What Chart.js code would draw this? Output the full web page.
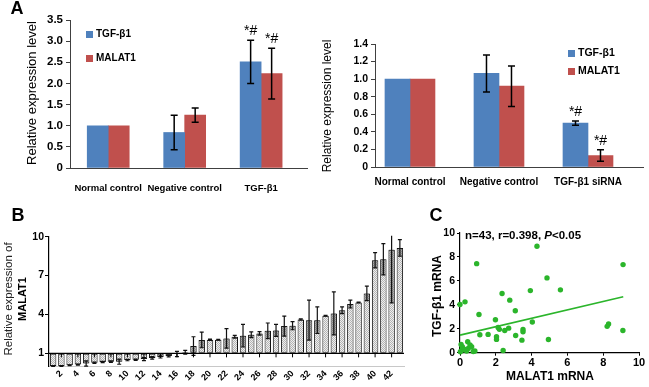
<!DOCTYPE html>
<html><head><meta charset="utf-8">
<script src="https://cdn.jsdelivr.net/npm/chart.js@4.4.0/dist/chart.umd.min.js"></script>
<style>
body{margin:0;background:#fff;}
#wrap{position:relative;width:649px;height:387px;overflow:hidden;background:#fff;}
canvas{position:absolute;}
</style></head><body>
<div id="wrap">
<canvas id="cA1" width="320" height="200" style="left:0;top:0"></canvas>
<canvas id="cA2" width="329" height="200" style="left:320px;top:0"></canvas>
<canvas id="cB" width="410" height="187" style="left:0;top:200px"></canvas>
<canvas id="cC" width="239" height="187" style="left:410px;top:200px"></canvas>
</div>
<script>
// ---------- Panel A (left) ----------
const catsA1 = ['Normal control', 'Negative control', 'TGF-β1'];
const tgfA1 = [1.0, 0.84, 2.51];
const tgfA1Err = [0, 0.41, 0.51];
const malA1 = [1.0, 1.25, 2.23];
const malA1Err = [0, 0.17, 0.60];
const tgfA1Sig = ['', '', '*#'];
const malA1Sig = ['', '', '*#'];

// ---------- Panel A (right) ----------
const catsA2 = ['Normal control', 'Negative control', 'TGF-β1 siRNA'];
const tgfA2 = [1.0, 1.065, 0.50];
const tgfA2Err = [0, 0.21, 0.025];
const malA2 = [1.0, 0.92, 0.13];
const malA2Err = [0, 0.23, 0.065];
const tgfA2Sig = ['', '', '*#'];
const malA2Sig = ['', '', '*#'];

// ---------- Panel B ----------
const samplesB = ['1','2','3','4','5','6','7','8','9','10','11','12','13','14','15','16','17','18','19','20','21','22','23','24','25','26','27','28','29','30','31','32','33','34','35','36','37','38','39','40','41','42','43'];
const malatB = [0.03,0.03,0.08,0.13,0.22,0.28,0.34,0.36,0.36,0.48,0.50,0.56,0.65,0.72,0.80,0.95,1.08,
  1.56,2.03,2.05,2.05,2.15,2.28,2.36,2.44,2.54,2.74,2.77,3.10,3.13,3.62,3.56,3.56,3.90,4.08,4.33,4.80,4.92,5.62,8.18,8.26,9.00,9.13];
const malatBErr = [0.03,0.03,0.03,0.04,0.20,0.05,0.05,0.06,0.20,0.05,0.05,0.12,0.10,0.08,0.08,0.20,0.15,
  0.72,0.60,0.05,0.03,0.75,0.10,0.87,0.22,0.13,0.60,0.46,0.77,0.31,0.05,1.54,1.03,0.03,1.66,0.26,0.30,0.03,0.56,0.59,1.20,4.10,0.64];
const yTicksB = [1, 4, 7, 10];

// ---------- Panel C ----------
const malatC = [4.30,0.93,9.11,4.86,5.61,3.93,2.35,2.78,0.00,0.28,3.09,1.06,1.98,4.04,8.30,8.22,2.13,2.20,2.72,2.50,3.52,3.52,9.10,3.11,1.11,1.57,2.04,2.04,3.46,4.94,2.41,0.06,0.13,0.43,0.56,0.46,0.65,0.37,0.09,0.83,0.24,0.02,0.74];
const tgfC   = [8.89,7.44,7.36,6.25,5.25,5.19,4.94,4.39,4.03,4.25,3.50,3.19,2.75,2.56,2.40,2.20,2.10,1.95,2.05,1.86,1.94,1.75,1.86,1.44,1.50,1.53,1.33,1.11,1.05,1.10,0.19,0.69,0.50,0.92,0.64,0.36,0.50,0.14,0.19,0.14,0.30,0.08,0.10];
const fitX = [0, 9.12];
const fitY = [1.47, 4.68];

// ---------- helpers ----------
const FAM = "'Liberation Sans', Arial, sans-serif";
const fnt = (size, weight = 'bold', style = 'normal') => `${style} ${weight} ${size}px ${FAM}`;
const BLUE = '#4F81BD', RED = '#C0504D', GREEN = '#2bb52b';

function textsPlugin(items) {
  return { id: 'texts', afterDraw(chart) {
    const ctx = chart.ctx;
    items.forEach(it => {
      ctx.save();
      ctx.translate(it.x, it.y);
      if (it.rot) ctx.rotate(it.rot * Math.PI / 180);
      ctx.textBaseline = 'middle';
      ctx.textAlign = 'left';
      ctx.fillStyle = it.color || '#000';
      const parts = it.parts || [{ t: it.text, font: it.font }];
      const widths = parts.map(p => { ctx.font = p.font; return ctx.measureText(p.t).width; });
      const total = widths.reduce((a, b) => a + b, 0);
      let x = it.align === 'left' ? 0 : -total / 2;
      parts.forEach((p, i) => { ctx.font = p.font; ctx.fillText(p.t, x, 0); x += widths[i]; });
      ctx.restore();
    });
  }};
}

function errPluginA(capW, sigFont) {
  return { id: 'errA', afterDatasetsDraw(chart) {
    const ctx = chart.ctx, ys = chart.scales.y;
    chart.data.datasets.forEach((ds, di) => {
      const meta = chart.getDatasetMeta(di);
      meta.data.forEach((bar, i) => {
        const v = ds.data[i].y, e = ds.errors[i];
        let top = bar.y;
        if (e) {
          const yt = ys.getPixelForValue(v + e), yb = ys.getPixelForValue(v - e);
          ctx.save(); ctx.strokeStyle = '#000'; ctx.lineWidth = 1.5;
          ctx.beginPath();
          ctx.moveTo(bar.x, yt); ctx.lineTo(bar.x, yb);
          ctx.moveTo(bar.x - capW / 2, yt); ctx.lineTo(bar.x + capW / 2, yt);
          ctx.moveTo(bar.x - capW / 2, yb); ctx.lineTo(bar.x + capW / 2, yb);
          ctx.stroke(); ctx.restore();
          top = yt;
        }
        if (ds.marks && ds.marks[i]) {
          ctx.save(); ctx.font = sigFont; ctx.fillStyle = '#000';
          ctx.textAlign = 'center'; ctx.textBaseline = 'middle';
          ctx.fillText(ds.marks[i], bar.x, top - 9);
          ctx.restore();
        }
      });
    });
  }};
}

function legendPlugin(x, y0, dy, size, font) {
  return { id: 'legA', afterDraw(chart) {
    const ctx = chart.ctx;
    chart.data.datasets.forEach((ds, i) => {
      const y = y0 + i * dy;
      ctx.save();
      ctx.fillStyle = ds.backgroundColor;
      ctx.fillRect(x, y, size, size);
      ctx.fillStyle = '#000'; ctx.font = font;
      ctx.textAlign = 'left'; ctx.textBaseline = 'middle';
      ctx.fillText(ds.label, x + size + 3, y + size / 2);
      ctx.restore();
    });
  }};
}

const axisCol = '#404040';

function barPanelA(canvasId, cats, tgf, tgfErr, tgfSig, mal, malErr, malSig, cfg) {
  new Chart(document.getElementById(canvasId), {
    type: 'bar',
    data: { datasets: [
      { label: 'TGF-β1', data: tgf.map((v, i) => ({ x: i, y: v })), backgroundColor: BLUE, errors: tgfErr, marks: tgfSig },
      { label: 'MALAT1', data: mal.map((v, i) => ({ x: i, y: v })), backgroundColor: RED, errors: malErr, marks: malSig }
    ]},
    options: {
      responsive: false, animation: false, devicePixelRatio: 1,
      layout: { padding: { top: cfg.top, right: cfg.right, left: 0, bottom: 0 } },
      datasets: { bar: { barThickness: cfg.barW, borderWidth: 0 } },
      scales: {
        x: {
          type: 'linear', min: cfg.xmin, max: cfg.xmax, offset: false, bounds: 'data',
          afterBuildTicks: s => { s.ticks = cats.map((_, i) => ({ value: i })); },
          ticks: { callback: v => cats[v], font: { family: FAM, size: cfg.catSize, weight: 'bold' }, color: '#000', padding: cfg.catPad, maxRotation: 0, autoSkip: false },
          grid: { display: false, drawTicks: false },
          border: { color: axisCol, width: 1 },
          afterFit: s => { s.height = cfg.xH; }
        },
        y: {
          min: 0, max: cfg.ymax,
          ticks: { stepSize: cfg.step, font: { family: FAM, size: cfg.tickSize, weight: 'bold' }, color: '#000', padding: 3 },
          grid: { drawOnChartArea: false, drawTicks: true, tickLength: 4, color: axisCol },
          border: { color: axisCol, width: 1 },
          afterFit: s => { s.width = cfg.yW; }
        }
      },
      plugins: { legend: { display: false }, tooltip: { enabled: false } }
    },
    plugins: [errPluginA(cfg.capW, fnt(14, 'normal')), legendPlugin(cfg.legX, cfg.legY, cfg.legDy, 7, fnt(cfg.legSize)), textsPlugin(cfg.texts)]
  });
}

barPanelA('cA1', catsA1, tgfA1, tgfA1Err, tgfA1Sig, malA1, malA1Err, malA1Sig, {
  top: 20, right: 13, xmin: -0.5, xmax: 2.6, barW: 21, catSize: 9.5, catPad: 15, xH: 32,
  ymax: 3.5, step: 0.5, tickSize: 11.5, yW: 70, capW: 7,
  legX: 86, legY: 31, legDy: 24, legSize: 10,
  texts: [
    { text: 'A', x: 17, y: 9, font: fnt(18) },
    { text: 'Relative expression level', x: 32, y: 93, rot: -90, font: fnt(13, 'normal') }
  ]
});

barPanelA('cA2', catsA2, tgfA2, tgfA2Err, tgfA2Sig, malA2, malA2Err, malA2Sig, {
  top: 44, right: 6, xmin: -0.393, xmax: 2.618, barW: 25, catSize: 10, catPad: 9, xH: 33,
  ymax: 1.4, step: 0.2, tickSize: 10.5, yW: 55, capW: 7,
  legX: 248, legY: 50, legDy: 18, legSize: 10.5,
  texts: [
    { text: 'Relative expression level', x: 8, y: 106, rot: -90, font: fnt(12, 'normal') }
  ]
});

// ---------- Panel B ----------
function hatchPattern() {
  const c = document.createElement('canvas'); c.width = 2; c.height = 2;
  const g = c.getContext('2d');
  g.fillStyle = '#eeeeee'; g.fillRect(0, 0, 2, 2);
  g.fillStyle = '#b4b4b4';
  g.fillRect(0, 0, 1, 1); g.fillRect(1, 1, 1, 1);
  return g.createPattern(c, 'repeat');
}

const bPlugin = { id: 'bExtras', afterDatasetsDraw(chart) {
  const ctx = chart.ctx, ys = chart.scales.y, xs = chart.scales.x, a = chart.chartArea;
  const y1 = ys.getPixelForValue(1);
  ctx.save();
  ctx.beginPath(); ctx.rect(a.left, a.top - 1, a.right - a.left + 1, a.bottom - a.top + 2); ctx.clip();
  const meta = chart.getDatasetMeta(0);
  meta.data.forEach((bar, i) => {
    const v = malatB[i], e = malatBErr[i];
    const yt = ys.getPixelForValue(v + e), yb = ys.getPixelForValue(v - e);
    const inner = v >= 1 ? ys.getPixelForValue(Math.max(v - e, 1)) : ys.getPixelForValue(Math.min(v + e, 1));
    ctx.fillStyle = 'rgba(40,40,40,0.35)';
    ctx.fillRect(bar.x - bar.width / 2 + 1, Math.min(bar.y, inner), bar.width - 2, Math.abs(inner - bar.y));
    ctx.strokeStyle = '#111'; ctx.lineWidth = 1.2;
    ctx.beginPath();
    ctx.moveTo(bar.x, yt); ctx.lineTo(bar.x, yb);
    ctx.moveTo(bar.x - 2, yt); ctx.lineTo(bar.x + 2, yt);
    ctx.moveTo(bar.x - 2, yb); ctx.lineTo(bar.x + 2, yb);
    ctx.stroke();
  });
  ctx.restore();
  ctx.save();
  ctx.strokeStyle = '#000'; ctx.lineWidth = 1.3;
  ctx.beginPath(); ctx.moveTo(a.left, y1); ctx.lineTo(a.right, y1); ctx.stroke();
  ctx.lineWidth = 1;
  ctx.beginPath();
  samplesB.forEach((s, i) => { if (i % 2 === 1) { const x = xs.getPixelForValue(i); ctx.moveTo(x, y1); ctx.lineTo(x, y1 + 4); } });
  ctx.stroke();
  ctx.restore();
}};

new Chart(document.getElementById('cB'), {
  type: 'bar',
  data: { labels: samplesB, datasets: [{ data: malatB, base: 1, backgroundColor: hatchPattern(), borderColor: '#111', borderWidth: 1, borderSkipped: false }] },
  options: {
    responsive: false, animation: false, devicePixelRatio: 1,
    layout: { padding: { top: 36.7, right: 6, left: 0, bottom: 0 } },
    datasets: { bar: { barPercentage: 0.78, categoryPercentage: 1.0 } },
    scales: {
      x: {
        ticks: { autoSkip: false, minRotation: 45, maxRotation: 45, padding: 2, color: '#000',
          font: { family: FAM, size: 9, weight: 'bold' },
          callback: (v, i) => (i % 2 === 1 ? samplesB[i] : '') },
        grid: { display: false, drawTicks: false },
        border: { color: '#c8c8c8', width: 1 },
        afterFit: s => { s.height = 20.7; }
      },
      y: {
        min: 0, max: 10,
        afterBuildTicks: s => { s.ticks = yTicksB.map(v => ({ value: v })); },
        ticks: { font: { family: FAM, size: 10.5, weight: 'bold' }, color: '#000', padding: 1 },
        grid: { drawOnChartArea: false, drawTicks: true, tickLength: 4, color: '#000' },
        border: { color: '#000', width: 1.2 },
        afterFit: s => { s.width = 49; }
      }
    },
    plugins: { legend: { display: false }, tooltip: { enabled: false } }
  },
  plugins: [bPlugin, textsPlugin([
    { text: 'B', x: 18, y: 16, font: fnt(18) },
    { text: 'Relative expression of', x: 9, y: 99, rot: -90, font: fnt(11.5, 'normal'), color: '#222' },
    { text: 'MALAT1', x: 23, y: 99, rot: -90, font: fnt(11) }
  ])]
});

// ---------- Panel C ----------
new Chart(document.getElementById('cC'), {
  type: 'scatter',
  data: { datasets: [
    { type: 'line', data: fitX.map((x, i) => ({ x, y: fitY[i] })), borderColor: GREEN, borderWidth: 1.6, pointRadius: 0, fill: false, clip: false },
    { data: malatC.map((x, i) => ({ x, y: tgfC[i] })), backgroundColor: GREEN, borderColor: GREEN, pointRadius: 2.7, borderWidth: 0, clip: false }
  ]},
  options: {
    responsive: false, animation: false, devicePixelRatio: 1,
    layout: { padding: { top: 33, right: 10, left: 0, bottom: 0 } },
    scales: {
      x: {
        type: 'linear', min: 0, max: 10,
        ticks: { stepSize: 2, font: { family: FAM, size: 11, weight: 'bold' }, color: '#000', padding: 1 },
        grid: { drawOnChartArea: false, drawTicks: true, tickLength: 3, color: '#000' },
        border: { color: '#000', width: 1.2 },
        afterFit: s => { s.height = 34.3; }
      },
      y: {
        min: 0, max: 10,
        ticks: { stepSize: 2, font: { family: FAM, size: 10.5, weight: 'bold' }, color: '#000', padding: 2 },
        grid: { drawOnChartArea: false, drawTicks: true, tickLength: 3, color: '#000' },
        border: { color: '#000', width: 1.2 },
        afterFit: s => { s.width = 50; }
      }
    },
    plugins: { legend: { display: false }, tooltip: { enabled: false } }
  },
  plugins: [textsPlugin([
    { text: 'C', x: 26, y: 16, font: fnt(18) },
    { text: 'TGF-β1 mRNA', x: 28, y: 96, rot: -90, font: fnt(12) },
    { text: 'MALAT1 mRNA', x: 140, y: 177, font: fnt(12) },
    { x: 55, y: 35.5, align: 'left', parts: [
      { t: 'n=43, r=0.398, ', font: fnt(11.5) },
      { t: 'P', font: fnt(11.5, 'bold', 'italic') },
      { t: '<0.05', font: fnt(11.5) }
    ]}
  ])]
});
</script>
</body></html>
